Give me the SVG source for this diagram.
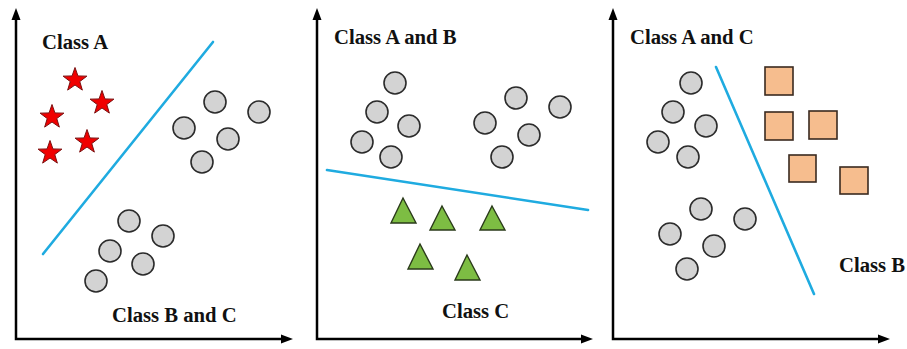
<svg xmlns="http://www.w3.org/2000/svg" xmlns:xlink="http://www.w3.org/1999/xlink" width="907" height="349" viewBox="0 0 907 349">
<style>
.lbl{font-family:"Liberation Serif","Times New Roman",serif;font-weight:bold;font-size:20.7px;fill:#111}
.ax{fill:none;stroke:#000;stroke-width:2.5}
.sep{fill:none;stroke:#1fabe0;stroke-width:2.6;stroke-linecap:round}
.dot{fill:#d3d3d3;stroke:#2b2b2b;stroke-width:1.6}
.star{fill:#f00000;stroke:#7a1010;stroke-width:1}
.tri{fill:#7dbd43;stroke:#2a3a1a;stroke-width:1.4;stroke-linejoin:miter}
.sq{fill:#f6bd8e;stroke:#3a2a20;stroke-width:1.6}
</style>
<defs>
<marker id="ah" markerUnits="userSpaceOnUse" markerWidth="13" markerHeight="10" refX="0" refY="5" orient="auto-start-reverse">
<path d="M0,0.5 L12,5 L0,9.5 Z" fill="#000"/>
</marker>
<path id="st" d="M0,-12.5 L2.95,-4.05 L11.9,-3.86 L4.77,1.55 L7.35,10.11 L0,5 L-7.35,10.11 L-4.77,1.55 L-11.9,-3.86 L-2.95,-4.05 Z"/>
</defs>
<rect width="907" height="349" fill="#fff"/>
<g id="connectors">
<path class="ax" d="M16,20 L16,339 L281,339" marker-start="url(#ah)" marker-end="url(#ah)"/>
<path class="ax" d="M317,20 L317,339 L581,339" marker-start="url(#ah)" marker-end="url(#ah)"/>
<path class="ax" d="M613,20 L613,339 L878,339" marker-start="url(#ah)" marker-end="url(#ah)"/>
<line class="sep" x1="213" y1="42" x2="43" y2="254"/>
<line class="sep" x1="327" y1="170" x2="588" y2="210"/>
<line class="sep" x1="716" y1="67" x2="814" y2="294"/>
</g>
<g id="panel1">
<g id="p1-classA">
<text class="lbl" x="42" y="49">Class A</text>
<use href="#st" class="star" x="75" y="80"/>
<use href="#st" class="star" x="102" y="103"/>
<use href="#st" class="star" x="52" y="117"/>
<use href="#st" class="star" x="87" y="142"/>
<use href="#st" class="star" x="50" y="153"/>
</g>
<g id="p1-circlesTop">
<circle class="dot" cx="215" cy="102" r="11"/>
<circle class="dot" cx="259" cy="112" r="11"/>
<circle class="dot" cx="184" cy="128" r="11"/>
<circle class="dot" cx="228" cy="139" r="11"/>
<circle class="dot" cx="202" cy="162" r="11"/>
</g>
<g id="p1-circlesBottom">
<circle class="dot" cx="129" cy="221" r="11"/>
<circle class="dot" cx="163" cy="236" r="11"/>
<circle class="dot" cx="110" cy="251" r="11"/>
<circle class="dot" cx="143" cy="264" r="11"/>
<circle class="dot" cx="96" cy="281" r="11"/>
</g>
<g id="p1-classBC">
<text class="lbl" x="112" y="322">Class B and C</text>
</g>
</g>
<g id="panel2">
<g id="p2-classAB">
<text class="lbl" x="334" y="44">Class A and B</text>
<circle class="dot" cx="395" cy="83" r="11"/>
<circle class="dot" cx="377" cy="112" r="11"/>
<circle class="dot" cx="409" cy="126" r="11"/>
<circle class="dot" cx="362" cy="142" r="11"/>
<circle class="dot" cx="391" cy="157" r="11"/>
<circle class="dot" cx="516" cy="98" r="11"/>
<circle class="dot" cx="560" cy="107" r="11"/>
<circle class="dot" cx="485" cy="123" r="11"/>
<circle class="dot" cx="529" cy="135" r="11"/>
<circle class="dot" cx="502" cy="157" r="11"/>
</g>
<g id="p2-classC">
<polygon class="tri" points="403,198 416,223 391,223"/>
<polygon class="tri" points="442,206 455,230 430,230"/>
<polygon class="tri" points="492,206 505,230 480,230"/>
<polygon class="tri" points="420,244 433,269 408,269"/>
<polygon class="tri" points="467,255 480,280 455,280"/>
<text class="lbl" x="442" y="318">Class C</text>
</g>
</g>
<g id="panel3">
<g id="p3-classAC">
<text class="lbl" x="630" y="44">Class A and C</text>
<circle class="dot" cx="691" cy="83" r="11"/>
<circle class="dot" cx="673" cy="112" r="11"/>
<circle class="dot" cx="706" cy="126" r="11"/>
<circle class="dot" cx="658" cy="142" r="11"/>
<circle class="dot" cx="688" cy="157" r="11"/>
<circle class="dot" cx="701" cy="209" r="11"/>
<circle class="dot" cx="745" cy="219" r="11"/>
<circle class="dot" cx="670" cy="234" r="11"/>
<circle class="dot" cx="714" cy="246" r="11"/>
<circle class="dot" cx="687" cy="269" r="11"/>
</g>
<g id="p3-classB">
<rect class="sq" x="765" y="67" width="28" height="28"/>
<rect class="sq" x="765" y="112" width="28" height="28"/>
<rect class="sq" x="809" y="111" width="28" height="28"/>
<rect class="sq" x="789" y="155" width="27" height="27"/>
<rect class="sq" x="840" y="167" width="28" height="27"/>
<text class="lbl" x="839" y="272">Class B</text>
</g>
</g>
</svg>
